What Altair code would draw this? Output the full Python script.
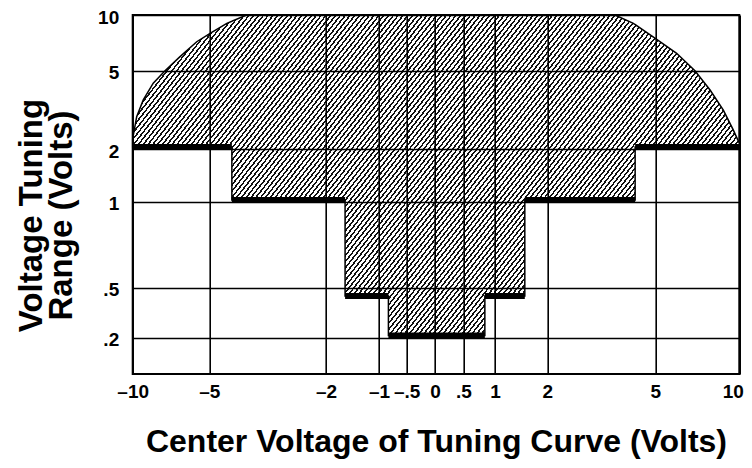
import math
import altair as alt
import pandas as pd

# ---------------- data ----------------
x_ticks = [-10, -5, -2, -1, -0.5, 0, 0.5, 1, 2, 5, 10]
x_tick_labels = ["–10", "–5", "–2", "–1", "–.5", "0", ".5", "1", "2", "5", "10"]
y_ticks = [0.2, 0.5, 1, 2, 5, 10]
y_tick_labels = [".2", ".5", "1", "2", "5", "10"]

# upper boundary of the tuning region (center voltage, tuning range)
top_x = [-10, -9.74, -9.31, -8.66, -7.89, -6.91, -5.82, -4.98, -4.55, -4.42, -4.04,
         -1.64, -0.83, 0.84, 1.57, 3.88, 4.39, 4.44, 5.0, 6.27, 7.36, 8.26, 9.05, 9.64, 10]
top_y = [2.40, 3.24, 3.88, 4.52, 5.0, 6.26, 7.60, 8.36, 9.25, 9.44, 10,
         10, 10, 10, 10, 10, 9.25, 9.14, 7.91, 6.56, 5.0, 4.26, 3.49, 2.73, 2.22]

# stepped lower boundary (minimum tuning range)
step_edges = [-10, -4.42, -1.64, -0.83, 0.84, 1.57, 4.44, 10]
step_levels = [2.08, 1.03, 0.45, 0.215, 0.45, 1.03, 2.08]

# ---------------- scales (hand-drawn, non-uniform grid) ----------------
W, H = 606.6, 359
x_range = [0, 76.6, 193.3, 246.3, 274.0, 302.3, 330.6, 362.3, 414.6, 522.6, 606.6]
y_domain = [0, 0.2, 0.5, 1, 2, 5, 10]
y_range = [359, 323, 272.7, 186.7, 134, 55.7, 0]

# ---------------- build tables ----------------
rows = []
for x, t in zip(top_x, top_y):
    if x in step_edges[1:-1]:
        i = step_edges.index(x)
        rows.append({"x": x, "top": t, "bottom": step_levels[i - 1]})
        rows.append({"x": x + 1e-4, "top": t, "bottom": step_levels[i]})
    else:
        j = 0
        for k in range(len(step_levels)):
            if step_edges[k] <= x:
                j = k
        rows.append({"x": x, "top": t, "bottom": step_levels[j]})
area_df = pd.DataFrame(rows)

steps_df = pd.DataFrame({"x": step_edges[:-1], "x2": step_edges[1:], "y": step_levels})

# ---------------- hatch style (diagonal stripes as a gradient) ----------------
theta = math.radians(52)
bw, bh = 606.6, 320.5
period = 4.8 * math.sin(theta)
L = bw * math.sin(theta) + bh * math.cos(theta)
kk = L / (bw * bh * (math.sin(theta) ** 2 / bh ** 2 + math.cos(theta) ** 2 / bw ** 2))
gx2 = kk * math.sin(theta) / bh
gy2 = kk * math.cos(theta) / bw
n = int(L / period)
stops = []
for i in range(n):
    a, b, c = i / n, (i + 0.40) / n, (i + 1) / n
    stops += [{"offset": a, "color": "#111111"}, {"offset": b, "color": "#111111"},
              {"offset": b, "color": "#ffffff"}, {"offset": c, "color": "#ffffff"}]
hatch = {"gradient": "linear", "x1": 0, "y1": 0, "x2": gx2, "y2": gy2, "stops": stops}


def label_expr(vals, labs):
    return " : ".join(f"datum.value == {v} ? '{l}'" for v, l in zip(vals, labs)) + " : ''"


FONT = "Liberation Sans"
xscale = alt.Scale(domain=x_ticks, range=x_range, zero=False, nice=False)
yscale = alt.Scale(domain=y_domain, range=y_range, zero=False, nice=False)

x_axis = alt.Axis(values=x_ticks, labelExpr=label_expr(x_ticks, x_tick_labels),
                  grid=True, gridColor="black", gridWidth=1.6, gridOpacity=1,
                  ticks=False, domain=False, labelFont=FONT, labelFontSize=19,
                  labelFontWeight="bold", labelColor="black", labelPadding=9,
                  labelOverlap=False, labelFlush=False,
                  labelAlign={"condition": {"test": "datum.value == 10", "value": "right"},
                              "value": "center"},
                  labelOffset={"condition": {"test": "datum.value == 10", "value": 4},
                               "value": 0},
                  title="Center Voltage of Tuning Curve (Volts)", titleFont=FONT,
                  titleFontSize=32, titleFontWeight="bold", titleColor="black",
                  titleY=78, titleBaseline="alphabetic", zindex=1)
y_axis = alt.Axis(values=y_ticks, labelExpr=label_expr(y_ticks, y_tick_labels),
                  grid=True, gridColor="black", gridWidth=1.6, gridOpacity=1,
                  ticks=False, domain=False, labelFont=FONT, labelFontSize=19,
                  labelFontWeight="bold", labelColor="black", labelPadding=14,
                  labelOffset=2, labelOverlap=False, labelFlush=False,
                  title=["Voltage Tuning", "Range (Volts)"], titleFont=FONT,
                  titleFontSize=33, titleFontWeight="bold", titleColor="black",
                  titleAngle=270, titleX=-101, titleY=200, titleAlign="center",
                  titleBaseline="middle", titleLineHeight=30, zindex=1)

area = alt.Chart(area_df).mark_area(fill=hatch, stroke="black", strokeWidth=1.5,
                                    interpolate="linear").encode(
    x=alt.X("x:Q", scale=xscale, axis=x_axis),
    y=alt.Y("top:Q", scale=yscale, axis=y_axis),
    y2="bottom:Q",
)

steps = alt.Chart(steps_df).mark_rule(color="black", strokeWidth=6, strokeCap="butt").encode(
    x=alt.X("x:Q", scale=xscale),
    x2="x2:Q",
    y=alt.Y("y:Q", scale=yscale),
)

chart = alt.layer(area, steps).properties(
    width=W, height=H,
    autosize=alt.AutoSizeParams(type="none"),
    padding={"left": 124.7, "top": 7, "right": 4.5, "bottom": 86},
    background="white",
).configure_view(stroke="black", strokeWidth=2)

chart.save("out.html", embed_options={"renderer": "svg", "actions": False})
